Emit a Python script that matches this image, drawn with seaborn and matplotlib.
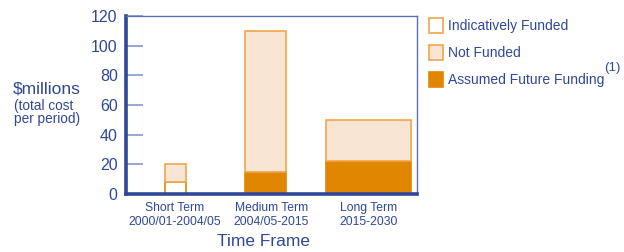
"""Stacked cost-per-period bars, redrawn with seaborn."""

import matplotlib
matplotlib.use("Agg")
import matplotlib.pyplot as plt
from matplotlib.patches import Patch
import numpy as np
import seaborn as sns

periods = ["Short Term\n2000/01-2004/05", "Medium Term\n2004/05-2015",
           "Long Term\n2015-2030"]
assumed_future = [0, 15, 22]
indicatively_funded = [8, 0, 0]
not_funded = [12, 95, 28]
legend_labels = ["Indicatively Funded", "Not Funded", "Assumed Future Funding"]
y_ticks = [0, 20, 40, 60, 80, 100, 120]

BLUE = "#2f4799"
TICK_BLUE = "#8797c8"
ORANGE = "#e08600"
EDGE = "#f0a54a"
PALE = "#f9e5d3"
bar_widths = [0.22, 0.43, 0.87]
bar_shift = [0.01, -0.06, 0.0]

sns.set_theme(style="white")
plt.rcParams["font.family"] = ["Liberation Sans", "DejaVu Sans"]

fig = plt.figure(figsize=(6.24, 2.52), dpi=100)
ax = fig.add_axes([0.202, 0.230, 0.466, 0.707])

base = np.zeros(len(periods))
layers = [
    (assumed_future, ORANGE, ORANGE),
    (indicatively_funded, "white", ORANGE),
    (not_funded, PALE, EDGE),
]
for values, face, edge in layers:
    n_before = len(ax.patches)
    sns.barplot(x=periods, y=values, bottom=base, color=face, saturation=1,
                edgecolor=edge, linewidth=1.2, ax=ax)
    for i, patch in enumerate(ax.patches[n_before:]):
        cx = patch.get_x() + patch.get_width() / 2 + bar_shift[i]
        patch.set_width(bar_widths[i])
        patch.set_x(cx - bar_widths[i] / 2)
        if values[i] == 0:
            patch.set_visible(False)
    base = base + np.asarray(values)

ax.set_xlim(-0.5, 2.5)
ax.set_ylim(0, 120)
ax.set_yticks(y_ticks)
ax.set_yticklabels([str(t) for t in y_ticks], fontsize=11.5, color=BLUE)
ax.tick_params(axis="y", direction="in", length=12, width=1.2,
               color=TICK_BLUE, pad=6, left=True)
ax.tick_params(axis="x", length=0, labelsize=8.7, labelcolor=BLUE, pad=6)
ax.set_xlabel("")
ax.set_ylabel("")

for side in ["left", "bottom"]:
    ax.spines[side].set_color(BLUE)
    ax.spines[side].set_linewidth(2.6)
for side in ["top", "right"]:
    ax.spines[side].set_color("#5d6fb3")
    ax.spines[side].set_linewidth(1.0)

fig.text(0.075, 0.648, "$millions", fontsize=12.5, color=BLUE,
         ha="center", va="center")
fig.text(0.022, 0.555, "(total cost\nper period)", fontsize=9.8, color=BLUE,
         ha="left", va="center", linespacing=0.9)
fig.text(0.422, 0.043, "Time Frame", fontsize=12.5, color=BLUE,
         ha="center", va="center")

handles = [
    Patch(facecolor="white", edgecolor=EDGE, linewidth=1.2),
    Patch(facecolor=PALE, edgecolor=EDGE, linewidth=1.2),
    Patch(facecolor=ORANGE, edgecolor=ORANGE, linewidth=1.2),
]
leg = fig.legend(handles, legend_labels, loc="upper left",
                 bbox_to_anchor=(0.667, 0.98), frameon=False, fontsize=10,
                 labelcolor=BLUE, handlelength=1.0, handleheight=1.3,
                 handletextpad=0.4, labelspacing=0.85)
fig.text(0.968, 0.73, "(1)", fontsize=9.5, color=BLUE, ha="left",
         va="center")

fig.savefig("out.png", dpi=100)
